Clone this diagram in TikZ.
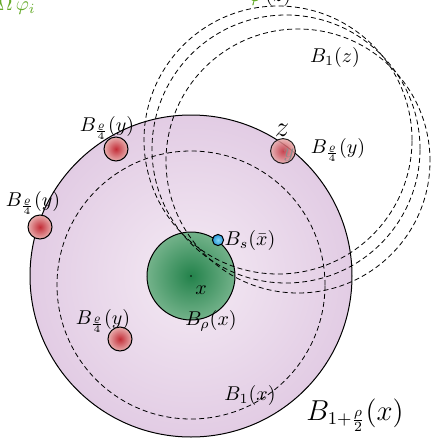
\documentclass[tikz,border=0pt]{standalone}
\usepackage{amsmath}
\definecolor{tgreen}{RGB}{100,170,40}
\definecolor{pinkin}{RGB}{244,234,244}
\definecolor{pinkout}{RGB}{226,204,228}
\definecolor{greenin}{RGB}{35,130,75}
\definecolor{greenout}{RGB}{115,178,138}
\definecolor{redin}{RGB}{195,45,55}
\definecolor{redout}{RGB}{232,175,175}
\definecolor{bluein}{RGB}{130,215,245}
\definecolor{blueout}{RGB}{40,150,215}
\tikzset{
  dashcirc/.style={draw=black, line width=0.4pt, dash pattern=on 2.5pt off 1.6pt},
  redball/.style={draw=black, line width=0.5pt, inner color=redin, outer color=redout},
  lbl/.style={inner sep=0pt, outer sep=0pt}
}
\begin{document}
\begin{tikzpicture}[x=0.5pt,y=-0.5pt]
\useasboundingbox (0,0) rectangle (436,440);
\clip (0,0) rectangle (436,440);
% centres
\coordinate (X) at (191,276);
\coordinate (X1) at (191,285);
\coordinate (Z1) at (278,140);
\coordinate (Z2) at (286,149);
\coordinate (Z3) at (298,161);
% big pink ball
\shade[draw=black, line width=0.5pt, inner color=pinkin, outer color=pinkout] (X) circle[radius=80.5pt];
% B_1(x)
\draw[dashcirc] (X1) circle[radius=67pt];
% green ball
\shade[draw=black, line width=0.5pt, inner color=greenin, outer color=greenout] (X) circle[radius=22pt];
\fill[black] (X) circle[radius=0.45pt];
% B_1(z) family
\draw[dashcirc] (Z1) circle[radius=67pt];
\draw[dashcirc] (Z2) circle[radius=67pt];
\draw[dashcirc] (Z3) circle[radius=66pt];
% small red balls
\shade[redball] (116,149) circle[radius=6pt];
\shade[redball] (40,227) circle[radius=6pt];
\shade[redball] (120,339) circle[radius=6pt];
\shade[redball, opacity=0.85] (283,151) circle[radius=6.2pt];
\node[lbl, text=black!45] (yy) at (289,155) {$y$};
\node[lbl] (z) at (282,130) {\Large $z$};
% blue ball
\shade[draw=black, line width=0.5pt, inner color=bluein, outer color=blueout] (218,240) circle[radius=2.8pt];
% labels
\node[lbl] (lBz) at (335,57) {$B_1(z)$};
\node[lbl] (ly1) at (107,128) {$B_{\frac{\varrho}{4}}(y)$};
\node[lbl] (ly2) at (33,203) {$B_{\frac{\varrho}{4}}(y)$};
\node[lbl] (ly3) at (103,321) {$B_{\frac{\varrho}{4}}(y)$};
\node[lbl] (ly4) at (338,150) {$B_{\frac{\varrho}{4}}(y)$};
\node[lbl] (lBs) at (250,240) {$B_s(\bar{x})$};
\node[lbl] (lx) at (201,290) {$x$};
\node[lbl] (lBr) at (211,321) {$B_\rho(x)$};
\node[lbl] (lB1) at (250,395) {$B_1(x)$};
\node[lbl] (lBig) at (355,415) {\fontsize{13.5}{16}\selectfont $B_{1+\frac{\rho}{2}}(x)$};
% cut-off fragments at the top
\node[lbl, anchor=base west] (top1) at (-2,10.5) {\color{tgreen}$\Omega\,\varphi_i$};
\node[lbl, anchor=base west] (top2) at (249,1.5) {$\textcolor{tgreen}{\varphi}\,(z)$};
\end{tikzpicture}
\end{document}
